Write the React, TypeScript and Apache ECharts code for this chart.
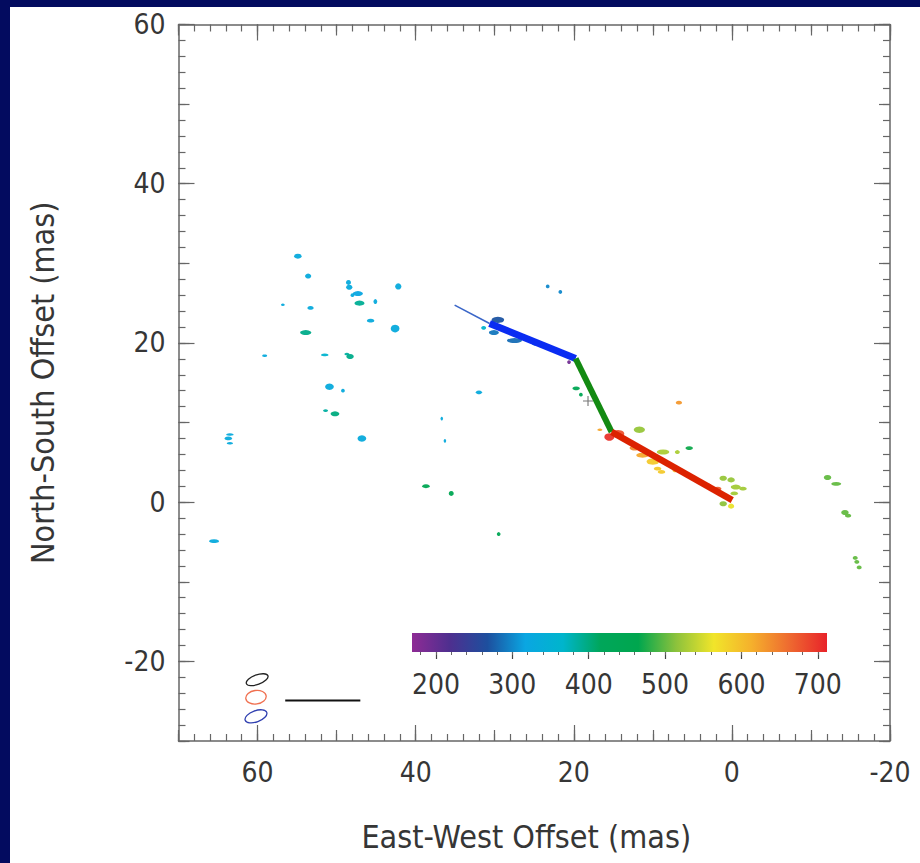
import React, { useEffect, useRef } from "react";
import * as echarts from "echarts";

// ---------- axes ----------
const X_MIN = -20;
const X_MAX = 70;
const Y_MIN = -30;
const Y_MAX = 60;
const range = (a: number, b: number, s: number) => {
  const out: number[] = [];
  for (let v = a; v <= b + 1e-9; v += s) out.push(Math.round(v * 1000) / 1000);
  return out;
};
const xMajorTicks = [-20, 0, 20, 40, 60];
const xMediumTicks = range(-20, 70, 10);
const xMinorTicks = range(-20, 70, 2);
const yMajorTicks = [-20, 0, 20, 40, 60];
const yMediumTicks = range(-30, 60, 10);
const yMinorTicks = range(-30, 60, 2);

// ---------- colour bar (velocity, km/s) ----------
const CB_MIN = 168.6;
const CB_MAX = 712;
const cbMajorTicks = [200, 300, 400, 500, 600, 700];
const cbMinorTicks = range(180, 700, 20);
const cbColors = [
  "#8e2b95", "#4e2f8f", "#1d4f9e", "#0aa6e2", "#00b5cc", "#00a65a",
  "#00a64e", "#8cc23c", "#f1e52a", "#f5b02c", "#ee6a30", "#e8232a",
];

// ---------- maser spots: [EW offset, NS offset, velocity, w px, h px] ----------
const eastSpots = [
  [54.9, 30.9, 330, 6, 4], [53.6, 28.4, 330, 5, 4], [48.5, 27.6, 330, 4, 4],
  [48.4, 27.0, 330, 5, 4], [42.2, 27.1, 330, 5, 5], [47.3, 26.2, 320, 8, 4],
  [48.0, 26.0, 330, 3, 3], [45.1, 25.2, 330, 3, 4], [47.1, 25.0, 390, 8, 4],
  [56.8, 24.8, 330, 3, 2], [53.3, 24.4, 330, 5, 3], [45.7, 22.8, 330, 6, 3],
  [42.6, 21.8, 330, 7, 6], [53.9, 21.3, 395, 9, 4], [59.1, 18.4, 330, 4, 2],
  [51.5, 18.5, 360, 6, 2], [48.7, 18.6, 385, 4, 2], [48.3, 18.3, 395, 6, 4],
  [50.9, 14.5, 330, 7, 5], [49.2, 14.0, 330, 3, 3], [51.4, 11.5, 385, 4, 2],
  [50.2, 11.1, 400, 7, 4], [63.5, 8.5, 330, 6, 2], [63.7, 8.0, 330, 6, 3],
  [63.5, 7.4, 330, 5, 2], [46.8, 8.0, 330, 7, 5], [65.5, -4.9, 330, 8, 3],
];
const middleSpots = [
  [38.7, 2.0, 445, 6, 3], [35.5, 1.1, 445, 4, 4], [36.7, 10.5, 330, 2, 3],
  [36.3, 7.7, 330, 2, 3], [32.0, 13.8, 330, 5, 3], [29.5, -4.0, 440, 3, 3],
  [23.3, 27.1, 300, 3, 3], [21.7, 26.4, 300, 3, 3],
];
const blueSpots = [
  [29.6, 22.9, 270, 10, 5], [31.4, 21.9, 360, 4, 3], [30.1, 21.3, 290, 8, 4],
  [27.5, 20.3, 285, 12, 4], [24.9, 19.9, 290, 5, 3], [20.6, 17.6, 190, 3, 3],
];
const greenSpots = [
  [19.7, 14.3, 440, 6, 3], [19.1, 13.5, 440, 3, 3],
];
const redSpots = [
  [6.7, 12.5, 630, 5, 3], [16.7, 9.1, 620, 4, 2], [11.7, 9.1, 520, 9, 5],
  [5.4, 6.8, 470, 6, 3], [8.7, 6.3, 530, 10, 4], [6.9, 6.3, 530, 4, 3],
  [14.4, 8.6, 680, 10, 6], [15.5, 8.2, 700, 8, 6], [12.3, 6.8, 640, 8, 4],
  [11.3, 5.9, 620, 10, 4], [10.0, 5.1, 590, 10, 5], [9.4, 4.2, 590, 6, 3],
  [8.9, 3.8, 590, 6, 3], [7.2, 4.0, 600, 4, 3], [1.8, 1.7, 670, 6, 3],
  [3.0, 2.1, 640, 5, 3],
];
const coreSpots = [
  [1.1, 3.0, 520, 6, 4], [0.1, 2.8, 520, 6, 4], [-0.5, 1.9, 525, 8, 4],
  [-1.4, 1.7, 525, 6, 3], [-0.3, 1.1, 525, 6, 3], [1.1, -0.2, 515, 6, 4],
  [0.1, -0.5, 560, 5, 4], [0.5, 0.5, 530, 4, 3],
];
const westSpots = [
  [-12.1, 3.1, 500, 6, 4], [-13.2, 2.3, 500, 8, 3], [-14.3, -1.3, 500, 6, 4],
  [-14.7, -1.7, 500, 5, 3], [-15.6, -7.0, 500, 4, 3], [-15.8, -7.5, 500, 4, 3],
  [-16.1, -8.2, 500, 4, 3],
];
const crossMark = [[18.2, 12.7]];

// ---------- jet path segments ----------
const thinPath = [[35.07, 24.75], [30.65, 22.45]];
const bluePath = [[30.65, 22.45], [19.77, 18.05]];
const greenPath = [[19.77, 18.05], [15.22, 8.83]];
const redPath = [[15.22, 8.83], [-0.04, 0.25]];

// ---------- beams [x, y, major (mas), minor (mas), angle deg] & scale bar ----------
const beams = [
  [60.05, -22.3, 2.9, 1.2, 20],
  [60.2, -24.5, 2.6, 1.7, 8],
  [60.2, -26.9, 2.9, 1.4, 20],
];
const beamColors = ["#222222", "#f07050", "#3040b0"];
const scaleBar = [[56.5, -24.9], [47.0, -24.9]];

const NAVY = "#030b5f";
const FONT = "'DejaVu Sans Condensed', 'Liberation Sans Narrow', sans-serif";
const AXIS_COLOR = "#666";
const TEXT_COLOR = "#363636";
const SPOT_SCALE = 1.25;

function tickAxis(opts: any) {
  return {
    type: "value",
    gridIndex: 0,
    splitLine: { show: false },
    axisLabel: { show: false },
    ...opts,
    axisLine: { show: false, onZero: false, ...(opts.axisLine || {}) },
    axisTick: { show: true, inside: true, lineStyle: { color: AXIS_COLOR, width: 1.2 }, ...opts.axisTick },
  };
}

export default function App() {
  const ref = useRef<HTMLDivElement>(null);
  useEffect(() => {
    const chart = echarts.init(ref.current!, null, { renderer: "svg" });
    const allSpots = [
      ...eastSpots, ...middleSpots, ...blueSpots, ...greenSpots,
      ...redSpots, ...coreSpots, ...westSpots,
    ];
    const gradStops = cbColors.map((c, i) => ({ offset: i / (cbColors.length - 1), color: c }));
    const xCommon = { min: X_MIN, max: X_MAX, inverse: true };
    const yCommon = { min: Y_MIN, max: Y_MAX };
    const labelStyle = { fontFamily: FONT, fontSize: 28, color: TEXT_COLOR };
    const mainLine = { show: true, onZero: false, lineStyle: { color: AXIS_COLOR, width: 1.5 } };
    const lineSeries = (data: number[][], color: string, width: number) => ({
      type: "line",
      data,
      xAxisIndex: 0,
      yAxisIndex: 0,
      showSymbol: false,
      symbol: "none",
      silent: true,
      lineStyle: { color, width, cap: "butt" },
    });

    const option: any = {
      animation: false,
      backgroundColor: "#ffffff",
      textStyle: { fontFamily: FONT },
      grid: [
        { left: 168.5, top: 17.5, width: 711.5, height: 716.5 },
        { left: 402, top: 626, width: 415, height: 19 },
      ],
      visualMap: {
        type: "continuous",
        show: false,
        seriesIndex: 0,
        dimension: 2,
        min: CB_MIN,
        max: CB_MAX,
        inRange: { color: cbColors },
      },
      xAxis: [
        tickAxis({
          ...xCommon,
          position: "bottom",
          axisLine: mainLine,
          axisTick: { customValues: xMajorTicks, length: 16 },
          axisLabel: { show: true, customValues: xMajorTicks, margin: 17, ...labelStyle },
          name: "East-West Offset (mas)",
          nameLocation: "middle",
          nameGap: 80,
          nameTextStyle: { fontFamily: FONT, fontSize: 32, color: TEXT_COLOR, padding: [0, 16, 0, 0] },
        }),
        tickAxis({ ...xCommon, position: "bottom", axisTick: { customValues: xMediumTicks, length: 11 } }),
        tickAxis({ ...xCommon, position: "bottom", axisTick: { customValues: xMinorTicks, length: 7 } }),
        tickAxis({
          ...xCommon,
          position: "top",
          axisLine: mainLine,
          axisTick: { customValues: xMajorTicks, length: 16 },
        }),
        tickAxis({ ...xCommon, position: "top", axisTick: { customValues: xMediumTicks, length: 11 } }),
        tickAxis({ ...xCommon, position: "top", axisTick: { customValues: xMinorTicks, length: 7 } }),
        {
          type: "value",
          gridIndex: 1,
          position: "bottom",
          min: CB_MIN,
          max: CB_MAX,
          splitLine: { show: false },
          axisLine: { show: false, onZero: false },
          axisTick: { show: true, inside: false, customValues: cbMajorTicks, length: 7, lineStyle: { color: "#444", width: 1.2 } },
          axisLabel: { show: true, customValues: cbMajorTicks, margin: 18, ...labelStyle },
        },
        {
          type: "value",
          gridIndex: 1,
          position: "bottom",
          min: CB_MIN,
          max: CB_MAX,
          splitLine: { show: false },
          axisLine: { show: false, onZero: false },
          axisTick: { show: true, inside: false, customValues: cbMinorTicks, length: 3, lineStyle: { color: "#666", width: 1 } },
          axisLabel: { show: false },
        },
      ],
      yAxis: [
        tickAxis({
          ...yCommon,
          position: "left",
          axisLine: mainLine,
          axisTick: { customValues: yMajorTicks, length: 16 },
          axisLabel: { show: true, customValues: yMajorTicks, margin: 13, ...labelStyle },
          name: "North-South Offset (mas)",
          nameLocation: "middle",
          nameGap: 120,
          nameTextStyle: { fontFamily: FONT, fontSize: 32, color: TEXT_COLOR },
        }),
        tickAxis({ ...yCommon, position: "left", axisTick: { customValues: yMediumTicks, length: 11 } }),
        tickAxis({ ...yCommon, position: "left", axisTick: { customValues: yMinorTicks, length: 7 } }),
        tickAxis({
          ...yCommon,
          position: "right",
          axisLine: mainLine,
          axisTick: { customValues: yMajorTicks, length: 16 },
        }),
        tickAxis({ ...yCommon, position: "right", axisTick: { customValues: yMediumTicks, length: 11 } }),
        tickAxis({ ...yCommon, position: "right", axisTick: { customValues: yMinorTicks, length: 7 } }),
        { type: "value", gridIndex: 1, min: 0, max: 1, show: false },
      ],
      series: [
        {
          type: "scatter",
          xAxisIndex: 0,
          yAxisIndex: 0,
          data: allSpots,
          symbol: "circle",
          symbolSize: (v: number[]) => [v[3] * SPOT_SCALE, v[4] * SPOT_SCALE],
          itemStyle: { opacity: 0.95 },
          silent: true,
        },
        {
          type: "scatter",
          xAxisIndex: 0,
          yAxisIndex: 0,
          data: crossMark,
          symbol: "path://M4,0h1v9h-1zM0,4h9v1h-9z",
          symbolSize: 10,
          itemStyle: { color: "#555" },
          silent: true,
        },
        lineSeries(thinPath, "#3a66c8", 1.6),
        lineSeries(bluePath, "#0a2cf2", 7),
        lineSeries(greenPath, "#138a12", 6),
        lineSeries(redPath, "#dc2200", 6.5),
        lineSeries(scaleBar, "#111111", 2),
        {
          type: "custom",
          xAxisIndex: 0,
          yAxisIndex: 0,
          data: beams,
          silent: true,
          renderItem: (params: any, api: any) => {
            const c = api.coord([api.value(0), api.value(1)]);
            const s = api.size([api.value(2), api.value(3)]);
            return {
              type: "ellipse",
              x: c[0],
              y: c[1],
              rotation: (api.value(4) * Math.PI) / 180,
              shape: { cx: 0, cy: 0, rx: s[0] / 2, ry: s[1] / 2 },
              style: { fill: "none", stroke: beamColors[params.dataIndex], lineWidth: 1.3 },
            };
          },
        },
        {
          type: "custom",
          xAxisIndex: 6,
          yAxisIndex: 6,
          data: [[CB_MIN, CB_MAX]],
          silent: true,
          encode: { x: [0, 1] },
          renderItem: (params: any, api: any) => {
            const p0 = api.coord([api.value(0), 0]);
            const p1 = api.coord([api.value(1), 1]);
            return {
              type: "rect",
              shape: { x: p0[0], y: p1[1], width: p1[0] - p0[0], height: p0[1] - p1[1] },
              style: { fill: new echarts.graphic.LinearGradient(0, 0, 1, 0, gradStops) },
            };
          },
        },
      ],
    };
    chart.setOption(option);
    return () => chart.dispose();
  }, []);

  return (
    <div style={{ position: "fixed", left: 0, top: 0, width: 920, height: 863, background: NAVY }}>
      <div
        ref={ref}
        style={{ position: "absolute", left: 10, top: 7, width: 910, height: 856, background: "#ffffff" }}
      />
    </div>
  );
}
